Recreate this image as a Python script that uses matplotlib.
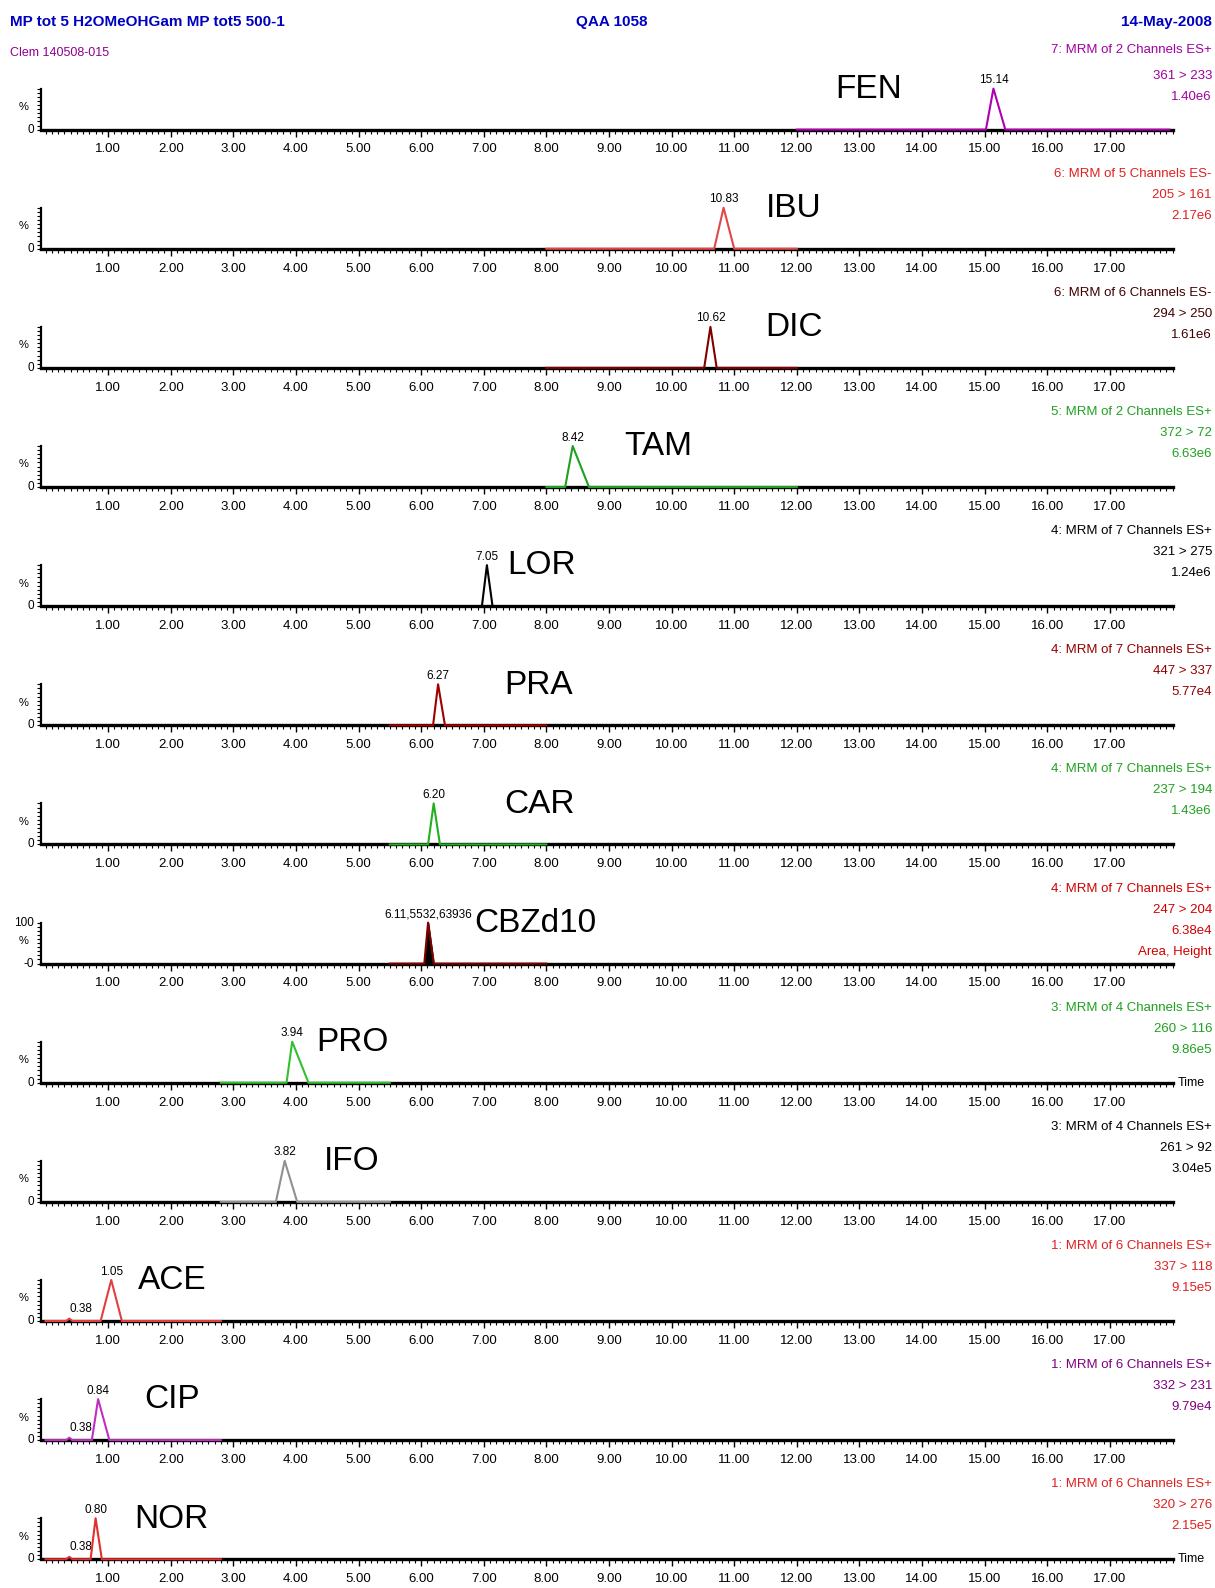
import matplotlib
matplotlib.use('Agg')
import matplotlib.pyplot as plt
from matplotlib.ticker import MultipleLocator

# compound traces, top to bottom
names = ['FEN', 'IBU', 'DIC', 'TAM', 'LOR', 'PRA', 'CAR', 'CBZd10', 'PRO', 'IFO', 'ACE', 'CIP', 'NOR']
apex = [15.14, 10.83, 10.62, 8.42, 7.05, 6.27, 6.20, 6.11, 3.94, 3.82, 1.05, 0.84, 0.80]
apex_labels = ['15.14', '10.83', '10.62', '8.42', '7.05', '6.27', '6.20', '6.11,5532,63936',
               '3.94', '3.82', '1.05', '0.84', '0.80']
left_base = [15.02, 10.68, 10.52, 8.30, 6.97, 6.19, 6.11, 6.05, 3.85, 3.68, 0.88, 0.74, 0.72]
right_base = [15.33, 11.00, 10.72, 8.68, 7.14, 6.38, 6.30, 6.20, 4.20, 4.02, 1.22, 1.02, 0.90]
trace_start = [12.0, 8.0, 8.0, 8.0, 5.5, 5.5, 5.5, 5.5, 2.8, 2.8, 0.0, 0.0, 0.0]
trace_end = [17.95, 12.0, 12.0, 12.0, 8.0, 8.0, 8.0, 8.0, 5.5, 5.5, 2.8, 2.8, 2.8]
channels = ['7: MRM of 2 Channels ES+', '6: MRM of 5 Channels ES-', '6: MRM of 6 Channels ES-',
            '5: MRM of 2 Channels ES+', '4: MRM of 7 Channels ES+', '4: MRM of 7 Channels ES+',
            '4: MRM of 7 Channels ES+', '4: MRM of 7 Channels ES+', '3: MRM of 4 Channels ES+',
            '3: MRM of 4 Channels ES+', '1: MRM of 6 Channels ES+', '1: MRM of 6 Channels ES+',
            '1: MRM of 6 Channels ES+']
transitions = ['361 > 233', '205 > 161', '294 > 250', '372 > 72', '321 > 275', '447 > 337', '237 > 194',
               '247 > 204', '260 > 116', '261 > 92', '337 > 118', '332 > 231', '320 > 276']
intensities = ['1.40e6', '2.17e6', '1.61e6', '6.63e6', '1.24e6', '5.77e4', '1.43e6', '6.38e4',
               '9.86e5', '3.04e5', '9.15e5', '9.79e4', '2.15e5']
name_x = [12.62, 11.51, 11.49, 9.25, 7.38, 7.32, 7.33, 6.85, 4.32, 4.45, 1.48, 1.58, 1.42]
trace_colors = ['#b000b0', '#e04848', '#800000', '#20a020', '#000000', '#a00000', '#20b020',
                '#800000', '#30c030', '#909090', '#e04040', '#c030c0', '#e03030']
text_colors = ['#a000a0', '#e02020', '#400000', '#20a020', '#000000', '#900000', '#20a020',
               '#d00000', '#20a020', '#000000', '#e02020', '#800080', '#e02020']
small_peak = 0.38   # tiny early bump in the last three traces

narrow = ['Liberation Sans Narrow', 'Liberation Sans', 'DejaVu Sans']
W, H = 1215, 1588
fig = plt.figure(figsize=(W / 100, H / 100), dpi=100)

for i in range(13):
    base_px = 129.6 + 119.14 * i
    ax = fig.add_axes([40.5 / W, 1 - base_px / H, (1172.5 - 40.5) / W, 41 / H])
    ax.set_xlim(-0.08, 18.0)
    ax.set_ylim(0, 100)
    for s in ['top', 'right']:
        ax.spines[s].set_visible(False)
    ax.spines['bottom'].set_linewidth(2.4)
    ax.spines['left'].set_linewidth(1.6)
    ax.set_xticks(range(1, 18))
    ax.set_xticklabels(['%d.00' % v for v in range(1, 18)], family=narrow, fontsize=9.5)
    ax.xaxis.set_minor_locator(MultipleLocator(0.1))
    ax.tick_params(axis='x', which='major', length=5, width=1.0, pad=5)
    ax.tick_params(axis='x', which='minor', length=3, width=0.8)
    ax.set_yticks([0, 100])
    ax.set_yticklabels([])
    ax.yaxis.set_minor_locator(MultipleLocator(10))
    ax.tick_params(axis='y', which='both', length=3, width=0.8)

    c = trace_colors[i]
    xs = [trace_start[i], left_base[i], apex[i], right_base[i], trace_end[i]]
    ys = [0, 0, 100, 0, 0]
    if i >= 10:
        xs = [trace_start[i], small_peak - 0.05, small_peak, small_peak + 0.05] + xs[1:]
        ys = [0, 0, 6, 0] + ys[1:]
        ax.text(small_peak, 30, '0.38', ha='left', va='center', fontsize=8.5, family=narrow)
    if names[i] == 'CBZd10':
        ax.fill_between(xs, ys, color='black', zorder=3)
    ax.plot(xs, ys, color=c, lw=1.5, zorder=4, clip_on=False)

    ax.text(apex[i], 106, apex_labels[i], ha='center', va='bottom', fontsize=8.5,
            family=narrow, clip_on=False)
    ax.text(name_x[i], 98, names[i], ha='left', va='center', fontsize=24,
            family=['Liberation Sans', 'DejaVu Sans'])

    # left axis labels
    if names[i] == 'CBZd10':
        ax.text(-0.006, 100, '100', transform=ax.get_yaxis_transform(), ha='right', va='center',
                fontsize=8.5, family=narrow)
        ax.text(-0.006, 0, '-0', transform=ax.get_yaxis_transform(), ha='right', va='center',
                fontsize=8.5, family=narrow)
    else:
        ax.text(-0.006, 0, '0', transform=ax.get_yaxis_transform(), ha='right', va='center',
                fontsize=8.5, family=narrow)
    ax.text(-0.011, 55, '%', transform=ax.get_yaxis_transform(), ha='right', va='center',
            fontsize=8, family=narrow)

    # right-hand channel info
    tc = text_colors[i]
    rx = 1212 / W
    top_off = 80 if i == 0 else 75
    fig.text(rx, 1 - (base_px - top_off) / H, channels[i], ha='right', va='center',
             fontsize=9.5, color=tc, family=narrow)
    fig.text(rx, 1 - (base_px - 54) / H, transitions[i], ha='right', va='center',
             fontsize=9.5, color=tc, family=narrow)
    fig.text(rx, 1 - (base_px - 33) / H, intensities[i], ha='right', va='center',
             fontsize=9.5, color=tc, family=narrow)
    if names[i] == 'CBZd10':
        fig.text(rx, 1 - (base_px - 12) / H, 'Area, Height', ha='right', va='center',
                 fontsize=9.5, color=tc, family=narrow)
    if names[i] in ('PRO', 'NOR'):
        ax.text(1.005, 0, 'Time', transform=ax.transAxes, ha='left', va='center',
                fontsize=9, family=narrow)

# header
fig.text(10 / W, 1 - 22 / H, 'MP tot 5 H2OMeOHGam MP tot5 500-1', ha='left', va='center',
         fontsize=11, color='#0000c0', weight='bold', family=narrow)
fig.text(612 / W, 1 - 22 / H, 'QAA 1058', ha='center', va='center',
         fontsize=11, color='#0000c0', weight='bold', family=narrow)
fig.text(1212 / W, 1 - 22 / H, '14-May-2008', ha='right', va='center',
         fontsize=11, color='#0000c0', weight='bold', family=narrow)
fig.text(10 / W, 1 - 53 / H, 'Clem 140508-015', ha='left', va='center',
         fontsize=9, color='#900090', family=narrow)

fig.savefig('out.png', dpi=100)
